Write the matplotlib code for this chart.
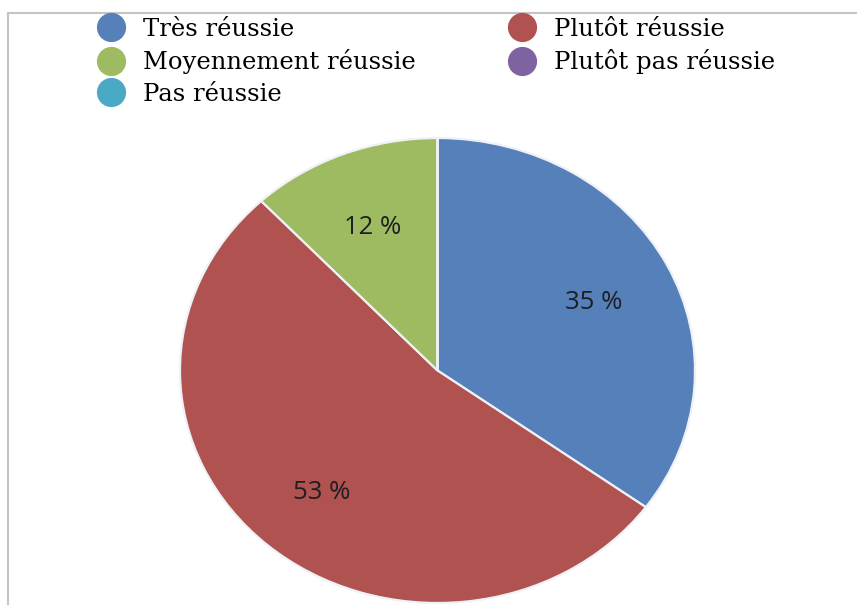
import matplotlib
matplotlib.use("Agg")
import matplotlib.pyplot as plt
from matplotlib.lines import Line2D
from matplotlib.transforms import offset_copy

# données
categories = ["Très réussie", "Plutôt réussie", "Moyennement réussie",
              "Plutôt pas réussie", "Pas réussie"]
values = [35, 53, 12, 0, 0]
colors = ["#5580ba", "#b0524f", "#9ebb62", "#7f63a1", "#4aa9c4"]

fig = plt.figure(figsize=(8.57, 6.05), dpi=100)
W, H = 857, 605

# zone du camembert (pixels) : x 180..695, y 138..603
ax = fig.add_axes([180 / W, (H - 603) / H, 515 / W, 465 / H])
wedges, texts, autotexts = ax.pie(
    values, colors=colors, startangle=90, counterclock=False,
    autopct=lambda p: f"{p:.0f} %" if p > 0 else "",
    pctdistance=0.68,
    wedgeprops=dict(edgecolor="#eef2f7", linewidth=1.6),
    textprops=dict(fontsize=18.5, color="#1e1e24", family="Open Sans"))
ax.set_aspect("auto")
ax.set_xlim(-1.0, 1.0)
ax.set_ylim(-1.0, 1.0)
# petits décalages vers le bas des pourcentages
for t in autotexts:
    t.set_transform(offset_copy(ax.transData, fig=fig, y=-3.5, units="dots"))

# légende : marqueurs ronds, deux colonnes
handles = [Line2D([], [], linestyle="none", marker="o", markersize=20,
                  markerfacecolor=c, markeredgecolor=c) for c in colors]
order = [0, 2, 4, 1, 3]
fig.legend([handles[i] for i in order], [categories[i] for i in order],
           ncol=2, loc="upper left", bbox_to_anchor=(97 / W, 1 - 18 / H),
           frameon=False, prop=dict(family="DejaVu Serif", size=17.5),
           handletextpad=0.74, columnspacing=3.8, labelspacing=0.34,
           handlelength=1.15, borderpad=0, borderaxespad=0)

# cadre gris (gauche et haut)
fig.add_artist(Line2D([8 / W, 8 / W], [0, 1 - 13 / H], color="#c4c4c4", lw=1.5))
fig.add_artist(Line2D([8 / W, 1], [1 - 13 / H, 1 - 13 / H], color="#c4c4c4", lw=1.5))

fig.savefig("out.png", dpi=100)
